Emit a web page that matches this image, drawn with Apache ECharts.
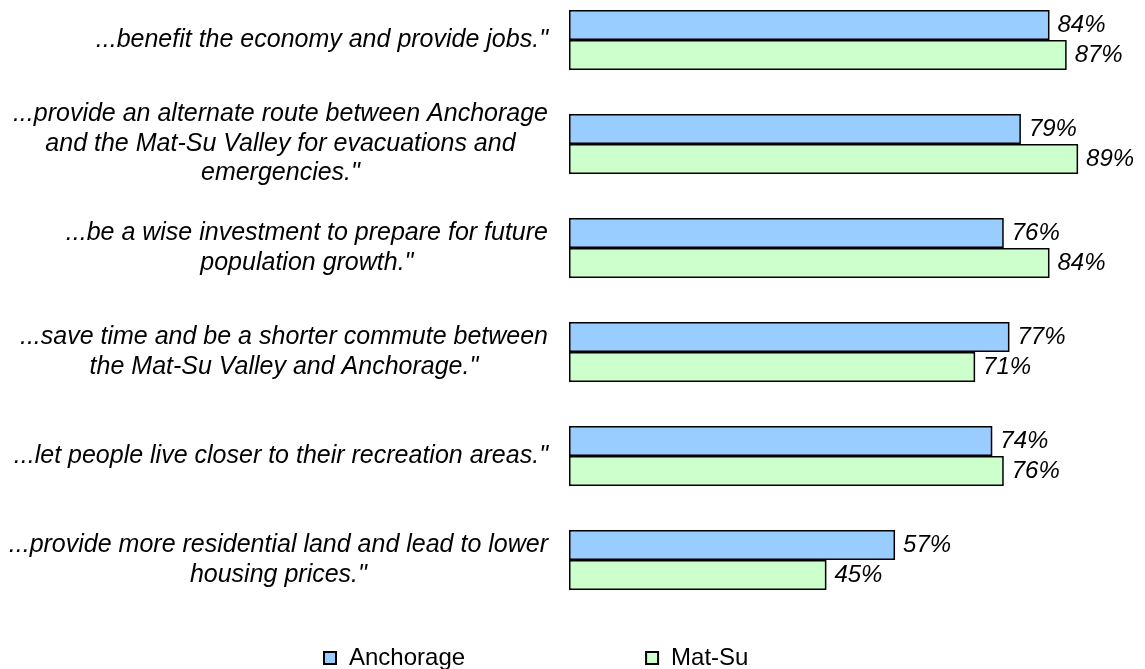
<!DOCTYPE html>
<html>
<head>
<meta charset="utf-8">
<script src="https://cdn.jsdelivr.net/npm/echarts@6/dist/echarts.min.js"></script>
<style>
  html, body { margin: 0; padding: 0; background: #ffffff; overflow: hidden; }
  /* chart box starts a bit above the window so the first bar group sits near the top */
  #chart { width: 1145px; height: 681px; margin-top: -12px; }
</style>
</head>
<body>
<div id="chart"></div>
<script>
// statements, top to bottom (lines split as in the original)
const categories = [
  '...benefit the economy and provide jobs."',
  '...provide an alternate route between Anchorage\nand the Mat-Su Valley for evacuations and\nemergencies."',
  '...be a wise investment to prepare for future\npopulation growth."',
  '...save time and be a shorter commute between\nthe Mat-Su Valley and Anchorage."',
  '...let people live closer to their recreation areas."',
  '...provide more residential land and lead to lower\nhousing prices."'
]
const anchorage = [84, 79, 76, 77, 74, 57]
const matSu = [87, 89, 84, 71, 76, 45]

const font = 'Arial, "Liberation Sans", sans-serif'

let myChart = echarts.init(document.getElementById('chart'))

function valueLabel() {
  return {
    show: true,
    position: 'right',
    distance: 8,
    formatter: '{c}%',
    color: '#000000',
    fontSize: 24,
    fontStyle: 'italic',
    fontFamily: font
  }
}

myChart.setOption({
  animation: false,
  backgroundColor: '#ffffff',
  grid: {
    left: 569,
    right: 4,
    top: 0,
    bottom: 57
  },
  legend: {
    data: ['Anchorage', 'Mat-Su'],
    left: 323,
    top: 658,
    padding: 0,
    itemWidth: 12,
    itemHeight: 12,
    itemGap: 180,
    icon: 'rect',
    textStyle: {
      fontSize: 24,
      color: '#000000',
      fontFamily: font,
      padding: [0, 0, 0, 8]
    }
  },
  xAxis: {
    type: 'value',
    min: 0,
    max: 100,
    show: false,
    splitLine: { show: false }
  },
  yAxis: {
    type: 'category',
    inverse: true,
    data: categories,
    axisLine: { show: false },
    axisTick: { show: false },
    axisLabel: {
      margin: 21,
      align: 'right',
      fontSize: 25,
      fontStyle: 'italic',
      fontFamily: font,
      color: '#000000',
      lineHeight: 29.5,
      formatter: function (value) {
        return value.split('\n').map(line => '{c|' + line + '}').join('\n')
      },
      rich: {
        c: {
          align: 'center',
          fontSize: 25,
          fontStyle: 'italic',
          fontFamily: font,
          color: '#000000',
          lineHeight: 29.5
        }
      }
    }
  },
  series: [
    {
      name: 'Anchorage',
      type: 'bar',
      data: anchorage,
      barWidth: 30,
      barGap: '0%',
      barCategoryGap: '42%',
      itemStyle: { color: '#99ccff', borderColor: '#000000', borderWidth: 1.5 },
      label: valueLabel()
    },
    {
      name: 'Mat-Su',
      type: 'bar',
      data: matSu,
      barWidth: 30,
      itemStyle: { color: '#ccffcc', borderColor: '#000000', borderWidth: 1.5 },
      label: valueLabel()
    }
  ]
})
</script>
</body>
</html>
